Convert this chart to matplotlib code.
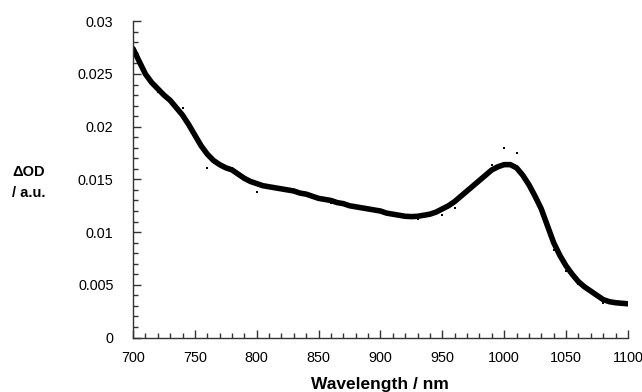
import matplotlib
matplotlib.use('Agg')
import matplotlib.pyplot as plt
import matplotlib.transforms as mtransforms
from matplotlib.ticker import MultipleLocator

plt.rcParams['font.family'] = ['Liberation Sans', 'DejaVu Sans']

# fitted curve, read every 5 nm
fit_wl = list(range(700, 1101, 5))
fit_od = [0.0274, 0.0262, 0.0250, 0.0242, 0.0236, 0.0230, 0.0225, 0.0218, 0.0211, 0.0202,
          0.0192, 0.0182, 0.0174, 0.0168, 0.0164, 0.0161, 0.0159, 0.0155, 0.0151, 0.0148,
          0.0146, 0.0144, 0.0143, 0.0142, 0.0141, 0.0140, 0.0139, 0.0137, 0.0136, 0.0134,
          0.0132, 0.0131, 0.0130, 0.0128, 0.0127, 0.0125, 0.0124, 0.0123, 0.0122, 0.0121,
          0.0120, 0.0118, 0.0117, 0.0116, 0.0115, 0.01147, 0.0115, 0.0116, 0.0117, 0.0119,
          0.0122, 0.0125, 0.0129, 0.0134, 0.0139, 0.0144, 0.0149, 0.0154, 0.0159, 0.0162,
          0.0164, 0.0164, 0.0161, 0.0154, 0.0145, 0.0134, 0.0122, 0.0106, 0.0090, 0.0078,
          0.0068, 0.0060, 0.0053, 0.0048, 0.0044, 0.0040, 0.0036, 0.0034, 0.0033, 0.00325,
          0.0032]

# measured points
pt_wl = [720, 740, 760, 780, 800, 820, 860, 930, 950, 960,
         990, 1000, 1010, 1020, 1040, 1050, 1060, 1080]
pt_od = [0.0233, 0.0218, 0.0161, 0.0161, 0.0138, 0.0143, 0.0128, 0.0112, 0.0116, 0.0123,
         0.0164, 0.0180, 0.0175, 0.0147, 0.0083, 0.0063, 0.0051, 0.0033]

fig = plt.figure(figsize=(6.42, 3.92), dpi=100)
ax = fig.add_axes([0.2072, 0.139, 0.7708, 0.8067])

ax.plot(fit_wl, fit_od, color='black', lw=4.0, solid_capstyle='round', solid_joinstyle='round')
ax.plot(pt_wl, pt_od, 's', color='black', markersize=2.0, markeredgewidth=0)

ax.set_xlim(700, 1100)
ax.set_ylim(0, 0.03)
ax.xaxis.set_major_locator(MultipleLocator(50))
ax.xaxis.set_minor_locator(MultipleLocator(10))
ax.yaxis.set_minor_locator(MultipleLocator(0.001))
ax.set_yticks([0, 0.005, 0.01, 0.015, 0.02, 0.025, 0.03])
ax.set_yticklabels(['0', '0.005', '0.01', '0.015', '0.02', '0.025', '0.03'])

for s in ['top', 'right']:
    ax.spines[s].set_visible(False)
for s in ['left', 'bottom']:
    ax.spines[s].set_linewidth(1.0)
    ax.spines[s].set_color('#333333')

ax.tick_params(which='major', direction='in', length=6, width=1, color='#333333', labelsize=10.4)
ax.tick_params(which='minor', direction='in', length=3.5, width=1, color='#333333')
ax.tick_params(axis='x', which='major', pad=10)
ax.tick_params(axis='y', which='major', pad=14)

# keep the last x label inside the figure
fig.canvas.draw()
last = ax.get_xticklabels()[-1]
last.set_transform(last.get_transform() + mtransforms.ScaledTranslation(-5 / 100, 0, fig.dpi_scale_trans))

fig.text(12 / 642, 1 - 172 / 392, '\u0394OD', fontsize=10.5, fontweight='bold', va='center', ha='left')
fig.text(12 / 642, 1 - 193 / 392, '/ a.u.', fontsize=10.5, fontweight='bold', va='center', ha='left')
fig.text(380 / 642, 1 - 384 / 392, 'Wavelength / nm', fontsize=12.5, fontweight='bold', va='center', ha='center')

fig.savefig('out.png', dpi=100)
